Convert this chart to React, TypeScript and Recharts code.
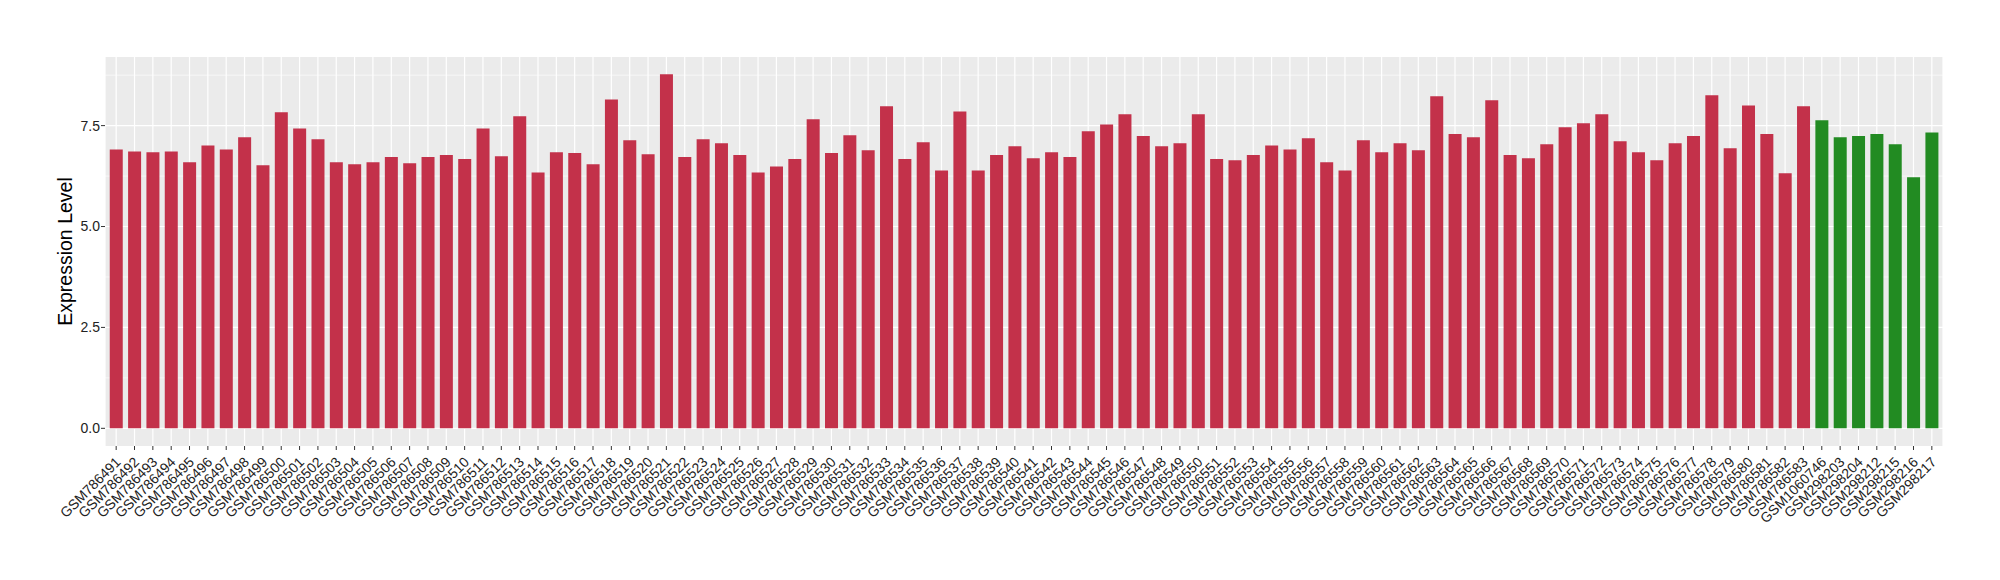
import React from "react";
import { BarChart, Bar, XAxis, YAxis, CartesianGrid, Cell } from "recharts";

const samples: string[] = [
  "GSM786491","GSM786492","GSM786493","GSM786494","GSM786495","GSM786496","GSM786497","GSM786498","GSM786499","GSM786500",
  "GSM786501","GSM786502","GSM786503","GSM786504","GSM786505","GSM786506","GSM786507","GSM786508","GSM786509","GSM786510",
  "GSM786511","GSM786512","GSM786513","GSM786514","GSM786515","GSM786516","GSM786517","GSM786518","GSM786519","GSM786520",
  "GSM786521","GSM786522","GSM786523","GSM786524","GSM786525","GSM786526","GSM786527","GSM786528","GSM786529","GSM786530",
  "GSM786531","GSM786532","GSM786533","GSM786534","GSM786535","GSM786536","GSM786537","GSM786538","GSM786539","GSM786540",
  "GSM786541","GSM786542","GSM786543","GSM786544","GSM786545","GSM786546","GSM786547","GSM786548","GSM786549","GSM786550",
  "GSM786551","GSM786552","GSM786553","GSM786554","GSM786555","GSM786556","GSM786557","GSM786558","GSM786559","GSM786560",
  "GSM786561","GSM786562","GSM786563","GSM786564","GSM786565","GSM786566","GSM786567","GSM786568","GSM786569","GSM786570",
  "GSM786571","GSM786572","GSM786573","GSM786574","GSM786575","GSM786576","GSM786577","GSM786578","GSM786579","GSM786580",
  "GSM786581","GSM786582","GSM786583",
  "GSM1060746","GSM298203","GSM298204","GSM298212","GSM298215","GSM298216","GSM298217",
];

const expression: number[] = [
  6.91, 6.86, 6.84, 6.86, 6.59, 7.01, 6.91, 7.21, 6.52, 7.83,
  7.43, 7.16, 6.59, 6.54, 6.59, 6.72, 6.57, 6.72, 6.77, 6.67,
  7.43, 6.74, 7.73, 6.34, 6.84, 6.82, 6.54, 8.15, 7.14, 6.79,
  8.77, 6.72, 7.16, 7.06, 6.77, 6.34, 6.49, 6.67, 7.66, 6.82,
  7.26, 6.89, 7.98, 6.67, 7.09, 6.39, 7.85, 6.39, 6.77, 6.99,
  6.69, 6.84, 6.72, 7.36, 7.53, 7.78, 7.24, 6.99, 7.06, 7.78,
  6.67, 6.64, 6.77, 7.01, 6.91, 7.19, 6.59, 6.39, 7.14, 6.84,
  7.06, 6.89, 8.23, 7.29, 7.21, 8.13, 6.77, 6.69, 7.04, 7.46,
  7.56, 7.78, 7.11, 6.84, 6.64, 7.06, 7.24, 8.25, 6.94, 8.0,
  7.29, 6.32, 7.98,
  7.63, 7.21, 7.24, 7.29, 7.04, 6.22, 7.33,
];

const groups: string[] = [
  ...Array(93).fill("A"),
  ...Array(7).fill("B"),
];

const groupColors: Record<string, string> = { A: "#C3314A", B: "#228B22" };
const yTicks: number[] = [0, 2.5, 5, 7.5];
const yMinor: number[] = [1.25, 3.75, 6.25, 8.75];

const data = samples.map((s, i) => ({ name: s, value: expression[i], group: groups[i] }));

const FONT = "'Liberation Sans', Arial, Helvetica, sans-serif";

const XTick = (props: any) => {
  const { x, y, payload } = props;
  return (
    <g transform={`translate(${x + 5.4},${y + 11})`}>
      <text
        x={0}
        y={0}
        transform="rotate(-45)"
        textAnchor="end"
        fontSize={14}
        fontFamily={FONT}
        fill="#222"
      >
        {payload.value}
      </text>
    </g>
  );
};

export default function App() {
  return (
    <div style={{ position: "absolute", left: 0, top: 0, width: 2000, height: 580, background: "#fff" }}>
      <BarChart
        width={2000}
        height={580}
        data={data}
        margin={{ top: 57, right: 57, bottom: 0, left: 0 }}
        barCategoryGap="15%"
      >
        <CartesianGrid
          fill="#EBEBEB"
          stroke="#FFFFFF"
          strokeWidth={1.2}
          horizontalValues={yTicks}
        />
        <CartesianGrid
          stroke="#FFFFFF"
          strokeWidth={0.6}
          vertical={false}
          horizontalValues={yMinor}
        />
        <XAxis
          dataKey="name"
          type="category"
          interval={0}
          height={134}
          padding={{ left: 2, right: 2 }}
          axisLine={false}
          tickLine={{ stroke: "#333", strokeWidth: 1 }}
          tickSize={4}
          tickMargin={2}
          tick={<XTick />}
        />
        <YAxis
          type="number"
          domain={[-0.438, 9.2]}
          ticks={yTicks}
          allowDataOverflow
          width={105}
          axisLine={false}
          tickLine={{ stroke: "#333", strokeWidth: 1 }}
          tickSize={4}
          tickMargin={1}
          tickFormatter={(v: number) => v.toFixed(1)}
          tick={{ fontSize: 14, fontFamily: FONT, fill: "#222" }}
          label={{
            value: "Expression Level",
            angle: -90,
            position: "insideLeft",
            dx: 60,
            style: { fontSize: 19.5, fontFamily: FONT, fill: "#000", textAnchor: "middle" },
          }}
        />
        <Bar dataKey="value" isAnimationActive={false}>
          {data.map((d, i) => (
            <Cell key={i} fill={groupColors[d.group]} />
          ))}
        </Bar>
      </BarChart>
    </div>
  );
}
